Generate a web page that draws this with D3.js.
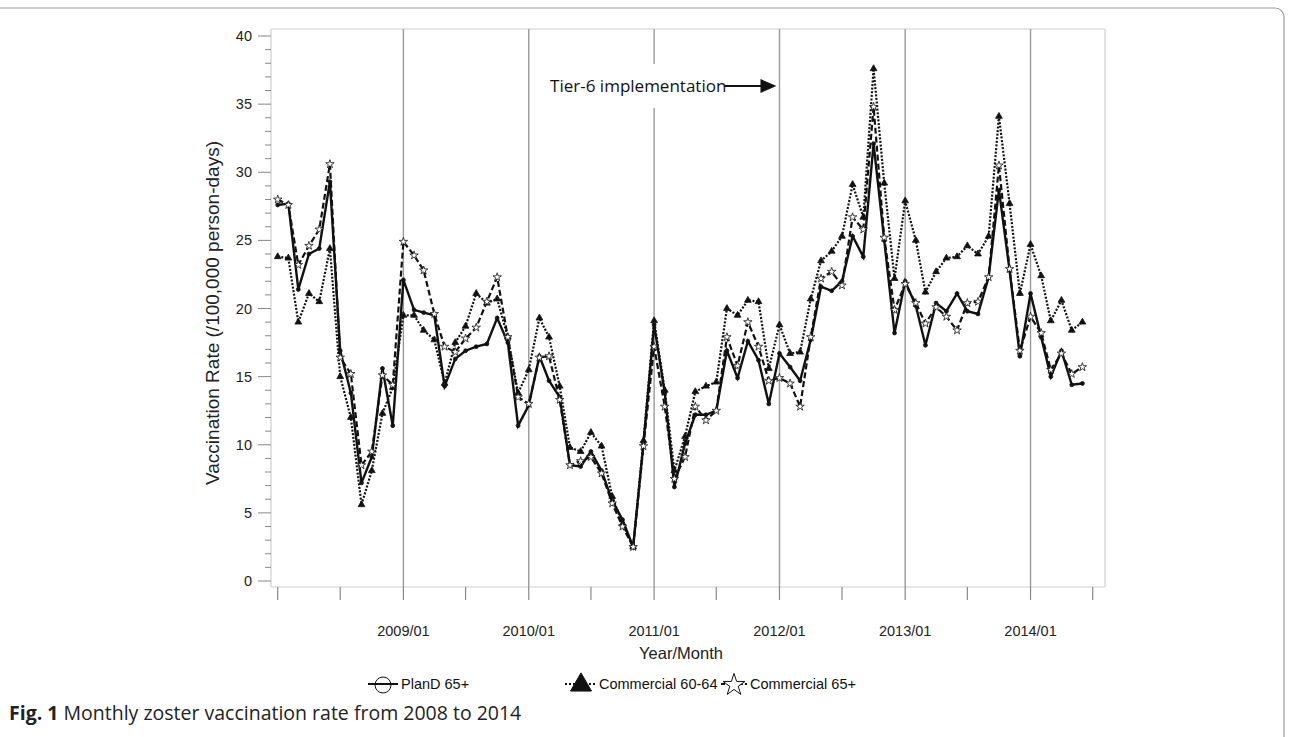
<!DOCTYPE html>
<html>
<head>
<meta charset="utf-8">
<script src="https://cdn.jsdelivr.net/npm/d3@7"></script>
<style>
  body { margin: 0; background: #fff; }
  svg { display: block; }
</style>
</head>
<body>
<div id="grafico"></div>
<script>
// valores, jan 2008 -> jun 2014
const seriesNames = ["PlanD 65+", "Commercial 60-64", "Commercial 65+"];

const planD = [27.6, 27.7, 21.4, 24.0, 24.4, 29.3, 16.9, 13.8, 7.2, 9.1, 15.6, 11.4,
  22.1, 19.9, 19.7, 19.5, 14.3, 16.3, 16.9, 17.2, 17.4, 19.3, 17.5, 11.4,
  12.9, 16.5, 14.7, 13.5, 8.5, 8.4, 9.5, 8.1, 5.9, 4.5, 2.5, 10.1,
  18.8, 13.8, 6.9, 10.1, 12.2, 12.2, 12.5, 16.9, 14.9, 17.6, 16.2, 13.0,
  16.7, 15.7, 14.7, 17.7, 21.6, 21.3, 22.0, 25.3, 23.8, 32.1, 25.0, 18.2,
  22.0, 20.2, 17.3, 20.4, 19.8, 21.1, 19.8, 19.6, 22.3, 28.7, 22.8, 16.5,
  21.1, 17.9, 15.0, 16.9, 14.4, 14.5];

const comm6064 = [23.8, 23.7, 19.0, 21.1, 20.5, 24.4, 15.0, 12.0, 5.6, 8.1, 12.3, 14.2,
  19.5, 19.5, 18.4, 17.7, 14.5, 17.5, 18.7, 21.1, 20.4, 20.7, 17.9, 13.8,
  15.5, 19.3, 17.9, 14.3, 9.8, 9.5, 10.9, 9.9, 6.2, 4.2, 2.5, 10.3,
  19.1, 14.0, 8.1, 10.6, 13.9, 14.3, 14.6, 20.0, 19.5, 20.6, 20.5, 15.6,
  18.8, 16.7, 16.8, 20.7, 23.5, 24.2, 25.3, 29.1, 26.7, 37.6, 29.2, 22.2,
  27.9, 25.0, 21.2, 22.7, 23.7, 23.8, 24.6, 24.0, 25.3, 34.1, 27.7, 21.1,
  24.7, 22.4, 19.1, 20.6, 18.4, 19.0];

const comm65 = [28.0, 27.6, 23.2, 24.6, 25.8, 30.6, 16.4, 15.2, 8.5, 9.5, 15.1, 14.4,
  24.9, 23.9, 22.8, 19.6, 17.2, 16.8, 17.8, 18.6, 20.5, 22.3, 17.9, 13.5,
  13.0, 16.4, 16.5, 13.3, 8.5, 8.8, 9.1, 7.9, 5.7, 4.0, 2.5, 9.9,
  17.2, 12.8, 7.5, 9.1, 12.8, 11.8, 12.5, 17.9, 15.8, 19.0, 17.2, 14.7,
  14.9, 14.5, 12.8, 17.9, 22.2, 22.7, 21.7, 26.7, 25.8, 34.8, 25.2, 19.9,
  21.8, 20.4, 18.9, 20.1, 19.4, 18.4, 20.4, 20.5, 22.3, 30.5, 22.9, 16.9,
  19.4, 18.2, 15.5, 16.7, 15.2, 15.7];

const yTicks = [0, 5, 10, 15, 20, 25, 30, 35, 40];
const yearLabels = ["2009/01", "2010/01", "2011/01", "2012/01", "2013/01", "2014/01"];

const months = d3.timeMonth.range(new Date(2008, 0, 1), new Date(2014, 6, 1));

const W = 1292, H = 737;
const pLeft = 271, pRight = 1105, pTop = 29, pBottom = 587;
const fonte = 'Liberation Sans, Arial, sans-serif';

let svg = d3.select('#grafico').append('svg')
  .attr('width', W)
  .attr('height', H);

// moldura da figura
svg.append('rect')
  .attr('x', -10).attr('y', 8)
  .attr('width', 1294).attr('height', 740)
  .attr('rx', 9)
  .style('fill', 'none')
  .style('stroke', '#9a9a9a')
  .style('stroke-width', 1.2);

let x = d3.scaleTime()
  .domain([new Date(2008, 0, 1), new Date(2014, 6, 1)])
  .range([277.7, 1092.7]);

let y = d3.scaleLinear()
  .domain([0, 40])
  .range([581, 36]);

// caixa do gráfico
svg.append('path')
  .attr('d', `M${pLeft},${pBottom}V${pTop}H${pRight}V${pBottom}Z`)
  .style('fill', 'none')
  .style('stroke', '#cfcfcf')
  .style('stroke-width', 1.2);

// linhas de referência anuais
const yearDates = d3.timeYear.range(new Date(2009, 0, 1), new Date(2014, 6, 1));
svg.append('g').selectAll('line')
  .data(yearDates)
  .enter()
  .append('line')
  .attr('x1', d => x(d)).attr('x2', d => x(d))
  .attr('y1', pTop).attr('y2', pBottom)
  .style('stroke', '#9a9a9a')
  .style('stroke-width', 1.4);

// eixo y
let gy = svg.append('g').attr('transform', `translate(${pLeft},0)`);
gy.selectAll('line')
  .data(d3.range(0, 41, 1))
  .enter()
  .append('line')
  .attr('x1', d => d % 5 === 0 ? -13 : -6)
  .attr('x2', 0)
  .attr('y1', d => y(d)).attr('y2', d => y(d))
  .style('stroke', '#888')
  .style('stroke-width', 1);
gy.selectAll('text')
  .data(yTicks)
  .enter()
  .append('text')
  .attr('x', -19)
  .attr('y', d => y(d) + 5)
  .style('text-anchor', 'end')
  .style('font-family', fonte)
  .style('font-size', '14.5px')
  .style('fill', '#222')
  .text(d => d);

// eixo x
const xTickDates = d3.timeMonth.every(6).range(new Date(2008, 0, 1), new Date(2014, 7, 1));
let gx = svg.append('g');
gx.selectAll('line')
  .data(xTickDates)
  .enter()
  .append('line')
  .attr('x1', d => x(d)).attr('x2', d => x(d))
  .attr('y1', pBottom).attr('y2', pBottom + 13)
  .style('stroke', '#888')
  .style('stroke-width', 1.2);
gx.selectAll('text')
  .data(yearDates)
  .enter()
  .append('text')
  .attr('x', d => x(d))
  .attr('y', 636)
  .style('text-anchor', 'middle')
  .style('font-family', fonte)
  .style('font-size', '14.5px')
  .style('fill', '#222')
  .text((d, i) => yearLabels[i]);

svg.append('text')
  .attr('x', 681).attr('y', 659)
  .style('text-anchor', 'middle')
  .style('font-family', fonte)
  .style('font-size', '16.5px')
  .style('fill', '#222')
  .text('Year/Month');

svg.append('text')
  .attr('transform', 'translate(219,313) rotate(-90)')
  .style('text-anchor', 'middle')
  .style('font-family', fonte)
  .style('font-size', '19px')
  .style('fill', '#222')
  .text('Vaccination Rate (/100,000 person-days)');

// anotação tier-6
const x2011 = x(new Date(2011, 0, 1));
const x2012 = x(new Date(2012, 0, 1));
svg.append('rect')
  .attr('x', x2011 - 10).attr('y', 64)
  .attr('width', 20).attr('height', 44)
  .style('fill', '#fff');
let tier = svg.append('text')
  .attr('x', x2011 - 104).attr('y', 92)
  .style('font-family', 'Open Sans, sans-serif')
  .style('font-size', '17px')
  .style('fill', '#111')
  .text('Tier-6 implementation');
const tEnd = x2011 - 104 + tier.node().getComputedTextLength();
svg.append('line')
  .attr('x1', tEnd - 2).attr('x2', x2012 - 14)
  .attr('y1', 86).attr('y2', 86)
  .style('stroke', '#111').style('stroke-width', 1.8);
svg.append('path')
  .attr('d', `M${x2012 - 19},79L${x2012 - 3},86L${x2012 - 19},93Z`)
  .style('fill', '#111');

// séries
const series = [
  { name: seriesNames[0], values: planD, dash: null, width: 2.4, symbol: d3.symbolCircle, fill: '#111', size: 12 },
  { name: seriesNames[1], values: comm6064, dash: '2,1.6', width: 2.2, symbol: d3.symbolTriangle, fill: '#111', size: 20 },
  { name: seriesNames[2], values: comm65, dash: '6,3', width: 2.2, symbol: d3.symbolStar, fill: '#fff', size: 22 }
];

let line = d3.line()
  .x((d, i) => x(months[i]))
  .y(d => y(d));

series.forEach(s => {
  svg.append('path')
    .datum(s.values)
    .attr('d', line)
    .style('fill', 'none')
    .style('stroke', '#111')
    .style('stroke-width', s.width)
    .style('stroke-linejoin', 'miter')
    .style('stroke-dasharray', s.dash);
  svg.append('g').selectAll('path')
    .data(s.values)
    .enter()
    .append('path')
    .attr('d', d3.symbol().type(s.symbol).size(s.size))
    .attr('transform', (d, i) => `translate(${x(months[i])},${y(d)})`)
    .style('fill', s.fill)
    .style('stroke', '#111')
    .style('stroke-width', 0.8);
});

// legenda
const legendItems = [
  { x1: 368, x2: 398, sx: 383, tx: 401, symbol: d3.symbolCircle, size: 200, fill: 'none', dash: null },
  { x1: 565, x2: 597, sx: 581, tx: 599, symbol: d3.symbolTriangle, size: 190, fill: '#111', dash: '2,2' },
  { x1: 721, x2: 747, sx: 734, tx: 750, symbol: d3.symbolStar, size: 150, fill: '#fff', dash: '4,2' }
];
let legend = svg.append('g').attr('transform', 'translate(0,684)');
seriesNames.forEach((n, i) => {
  const it = legendItems[i];
  legend.append('line')
    .attr('x1', it.x1).attr('x2', it.x2)
    .style('stroke', '#111')
    .style('stroke-width', 2)
    .style('stroke-dasharray', it.dash);
  legend.append('path')
    .attr('d', d3.symbol().type(it.symbol).size(it.size))
    .attr('transform', `translate(${it.sx},1)`)
    .style('fill', it.fill)
    .style('stroke', '#111')
    .style('stroke-width', 1);
  legend.append('text')
    .attr('x', it.tx).attr('y', 5)
    .style('font-family', fonte)
    .style('font-size', '14.5px')
    .style('fill', '#111')
    .text(n);
});

// legenda da figura
let cap = svg.append('text')
  .attr('x', 9).attr('y', 720)
  .style('font-family', 'Open Sans, sans-serif')
  .style('font-size', '19.5px')
  .style('fill', '#222');
cap.append('tspan').style('font-weight', 'bold').text('Fig. 1');
cap.append('tspan').text(' Monthly zoster vaccination rate from 2008 to 2014');
</script>
</body>
</html>
